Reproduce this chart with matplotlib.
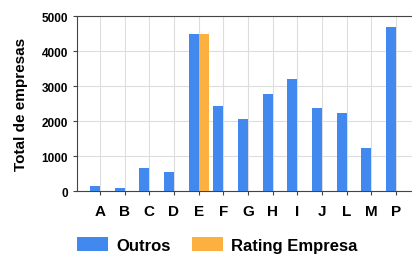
import matplotlib.pyplot as plt
import numpy as np

plt.rcParams['font.family'] = ['Liberation Sans', 'DejaVu Sans']
plt.rcParams['font.weight'] = 'bold'

categories = ["A", "B", "C", "D", "E", "F", "G", "H", "I", "J", "L", "M", "P"]
outros = [150, 100, 650, 540, 4480, 2440, 2050, 2780, 3190, 2370, 2230, 1220, 4700]
rating = [0, 0, 0, 0, 4480, 0, 0, 0, 0, 0, 0, 0, 0]
y_ticks = [0, 1000, 2000, 3000, 4000, 5000]

blue = "#4189ee"
orange = "#fbb040"

fig = plt.figure(figsize=(4.12, 2.55), dpi=100)
ax = fig.add_axes([0.187, 0.247, 0.813, 0.686])

x = np.arange(len(categories))
w = 0.4
b1 = ax.bar(x - w / 2, outros, w, color=blue, label="Outros", zorder=3)
b2 = ax.bar(x + w / 2, rating, w, color=orange, label="Rating Empresa", zorder=3)

ax.set_xlim(-0.93, 12.65)
ax.set_ylim(0, 5000)
ax.set_xticks(x)
ax.set_xticklabels(categories, fontsize=11, fontweight="bold")
ax.set_yticks(y_ticks)
ax.set_yticklabels([str(t) for t in y_ticks], fontsize=8.5, fontweight="bold")
ax.set_ylabel("Total de empresas", fontsize=11, fontweight="bold", labelpad=10)

ax.grid(True, color="#dddddd", linewidth=0.8, zorder=0)
for s in ["left", "bottom", "top"]:
    ax.spines[s].set_color("#444444")
ax.spines["right"].set_visible(False)
ax.tick_params(axis="both", colors="#444444", length=3, labelcolor="black")
ax.tick_params(axis="x", pad=6)

fig.legend(handles=[b1, b2], loc="center", bbox_to_anchor=(0.528, 0.035),
           ncol=2, frameon=False, prop={"size": 12, "weight": "bold"},
           handlelength=1.86, handleheight=0.84, handletextpad=0.48,
           columnspacing=1.3)

fig.savefig("out.png", dpi=100)
